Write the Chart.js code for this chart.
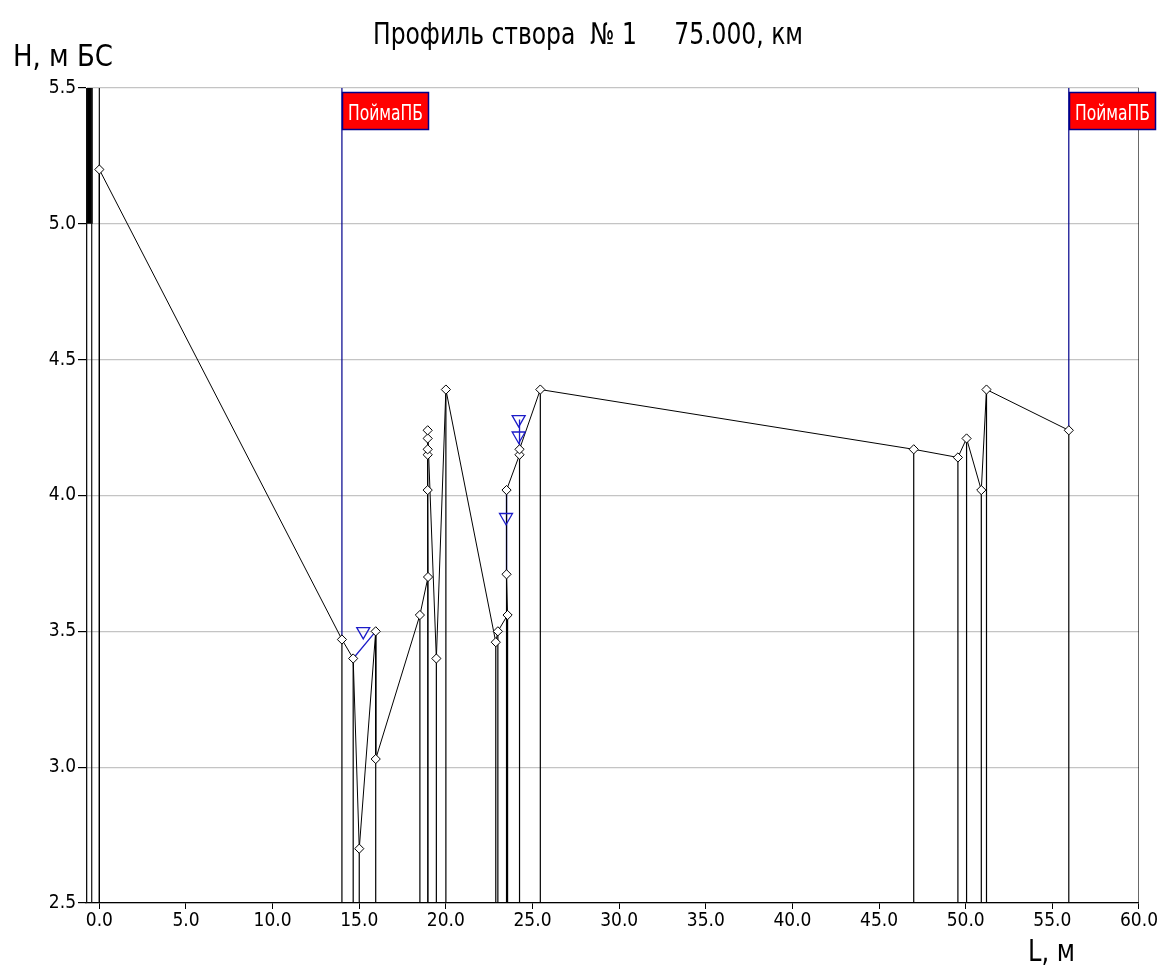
<!DOCTYPE html>
<html>
<head>
<meta charset="utf-8">
<script src="https://cdn.jsdelivr.net/npm/chart.js@4.4.1/dist/chart.umd.min.js"></script>
<style>
  html, body { margin: 0; padding: 0; background: #fff; }
  #wrap { width: 1159px; height: 971px; }
</style>
</head>
<body>
<div id="wrap"><canvas id="c" width="1159" height="971"></canvas></div>
<script>
// ---------- data ----------
const titleText = 'Профиль створа  № 1     75.000, км';
const yTitle = 'H, м БС';
const xTitle = 'L, м';
const floodLabel = 'ПоймаПБ';

const xTicks = [0, 5, 10, 15, 20, 25, 30, 35, 40, 45, 50, 55, 60];
const yTicks = [2.5, 3.0, 3.5, 4.0, 4.5, 5.0, 5.5];

// ground profile (in drawing order)
const profileL = [0.0, 14.0, 14.65, 15.0, 15.95, 15.95, 18.5, 18.97, 18.95, 18.95, 18.95, 18.95, 18.95, 19.45, 20.0, 22.88, 23.0, 23.56, 23.5, 23.5, 24.25, 24.25, 25.45, 47.0, 49.55, 50.05, 50.9, 51.2, 55.95];
const profileH = [5.20, 3.47, 3.40, 2.70, 3.50, 3.03, 3.56, 3.70, 4.02, 4.15, 4.17, 4.21, 4.24, 3.40, 4.39, 3.46, 3.50, 3.56, 3.71, 4.02, 4.15, 4.17, 4.39, 4.17, 4.14, 4.21, 4.02, 4.39, 4.24];

// full-height verticals (left bank wall, start of profile, right end)
const edgeL = [-0.73, -0.44, 0.0, 60.0];
// bank wall filled block
const wallL = -0.585;
const wallH = [5.0, 5.5];

// floodplain boundaries
const floodL = [14.0, 55.95];
const floodH = [3.47, 4.24];

// water surface segments (null = break)
const waterL = [14.65, 15.95, null, 23.5, 23.5, null, 24.25, 24.25];
const waterH = [3.40, 3.50, null, 3.71, 4.02, null, 4.15, 4.28];

// water level marks
const levelL = [15.23, 23.47, 24.2, 24.2];
const levelH = [3.50, 3.92, 4.28, 4.22];

// ---------- build ----------
const Y_MIN = 2.5, Y_MAX = 5.5, X_MIN = -0.77, X_MAX = 60;
const FONT = "'Liberation Sans Narrow', 'Arial Narrow', 'DejaVu Sans Condensed', sans-serif";

const profileData = profileL.map((x, i) => ({ x, y: profileH[i] }));
const dropData = [];
profileL.forEach((x, i) => { dropData.push({ x, y: profileH[i] }, { x, y: Y_MIN }, { x, y: null }); });
const edgeData = [];
edgeL.forEach(x => { edgeData.push({ x, y: Y_MIN }, { x, y: Y_MAX }, { x, y: null }); });
const wallData = wallH.map(y => ({ x: wallL, y }));
const floodData = [];
floodL.forEach((x, i) => { floodData.push({ x, y: floodH[i] }, { x, y: Y_MAX }, { x, y: null }); });
const waterData = waterL.map((x, i) => ({ x: x === null ? NaN : x, y: waterH[i] }));
const levelData = levelL.map((x, i) => ({ x, y: levelH[i] }));

function fitText(ctx, text, left, baseline, width, size, weight, color) {
  ctx.save();
  ctx.font = `${weight} ${size}px ${FONT}`;
  const m = ctx.measureText(text).width;
  ctx.translate(left, baseline);
  ctx.scale(width / m, 1);
  ctx.fillStyle = color;
  ctx.textAlign = 'left';
  ctx.textBaseline = 'alphabetic';
  ctx.fillText(text, 0, 0);
  ctx.restore();
}

const decor = {
  id: 'decor',
  afterDatasetsDraw(chart) {
    const ctx = chart.ctx;
    const xs = chart.scales.x;
    floodL.forEach(v => {
      const px = Math.round(xs.getPixelForValue(v));
      ctx.save();
      ctx.fillStyle = '#ff0000';
      ctx.fillRect(px, 92, 87, 38);
      ctx.strokeStyle = '#00008b';
      ctx.lineWidth = 1.5;
      ctx.strokeRect(px + 0.5, 92.5, 86, 37);
      ctx.restore();
      fitText(ctx, floodLabel, px + 6, 120, 75, 21, 'normal', '#ffffff');
    });
  },
  afterDraw(chart) {
    const ctx = chart.ctx;
    fitText(ctx, titleText, 373, 44, 430, 30, 'normal', '#000');
    fitText(ctx, yTitle, 13, 66, 100, 30, 'normal', '#000');
    fitText(ctx, xTitle, 1028, 961, 47, 30, 'normal', '#000');
  }
};

new Chart(document.getElementById('c'), {
  type: 'line',
  data: {
    datasets: [
      { data: levelData, order: 0, showLine: false, pointStyle: 'triangle', rotation: 180, pointRadius: 7.5,
        pointBackgroundColor: 'rgba(255,255,255,0)', pointBorderColor: '#1c1cc8', pointBorderWidth: 1.3 },
      { data: profileData, order: 1, borderColor: '#000', borderWidth: 1, pointStyle: 'rectRot', pointRadius: 4.6,
        pointBackgroundColor: '#fff', pointBorderColor: '#000', pointBorderWidth: 1 },
      { data: waterData, order: 2, borderColor: '#1c1cc8', borderWidth: 1.3, pointRadius: 0, spanGaps: false },
      { data: floodData, order: 3, borderColor: '#00008b', borderWidth: 1.2, pointRadius: 0, spanGaps: false },
      { data: dropData, order: 4, borderColor: '#000', borderWidth: 1.2, pointRadius: 0, spanGaps: false },
      { data: edgeData, order: 5, borderColor: '#111', borderWidth: 1.2, pointRadius: 0, spanGaps: false },
      { data: wallData, order: 6, borderColor: '#000', borderWidth: 7, borderCapStyle: 'butt', pointRadius: 0 }
    ]
  },
  options: {
    responsive: false,
    animation: false,
    devicePixelRatio: 1,
    layout: { padding: { left: 0, right: 12, top: 88, bottom: 0 } },
    plugins: { legend: { display: false }, tooltip: { enabled: false }, title: { display: false } },
    elements: { line: { tension: 0 } },
    scales: {
      x: {
        type: 'linear', min: X_MIN, max: X_MAX,
        afterBuildTicks(s) { s.ticks = xTicks.map(v => ({ value: v })); },
        afterFit(s) { s.height = 68; },
        ticks: { callback: v => Number(v).toFixed(1), color: '#000', font: { family: FONT, size: 19 }, padding: 1, maxRotation: 0, autoSkip: false },
        grid: { drawOnChartArea: false, drawTicks: true, tickLength: 6, tickColor: '#000' },
        border: { display: true, color: '#000', width: 1.2 }
      },
      y: {
        type: 'linear', min: Y_MIN, max: Y_MAX,
        afterBuildTicks(s) { s.ticks = yTicks.map(v => ({ value: v })); },
        afterFit(s) { s.width = 86; },
        ticks: { callback: v => Number(v).toFixed(1), color: '#000', font: { family: FONT, size: 19 }, padding: 2 },
        grid: { color: '#c4c4c4', lineWidth: 1.2, tickLength: 8, tickColor: '#000' },
        border: { display: true, color: '#000', width: 1 }
      }
    }
  },
  plugins: [decor]
});
</script>
</body>
</html>
